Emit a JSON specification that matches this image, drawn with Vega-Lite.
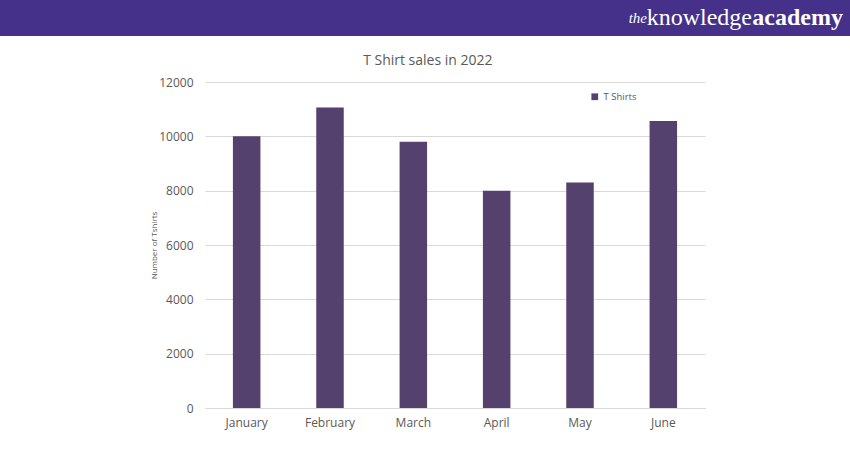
{
  "$schema": "https://vega.github.io/schema/vega-lite/v6.json",
  "padding": {"left": 0, "top": 0, "right": 0, "bottom": 20},
  "background": "white",
  "spacing": 18,
  "config": {"font": "Open Sans", "view": {"stroke": null}},
  "datasets": {
    "sales": [
      {"Month": "January", "Sales": 10000, "Series": "T Shirts"},
      {"Month": "February", "Sales": 11060, "Series": "T Shirts"},
      {"Month": "March", "Sales": 9800, "Series": "T Shirts"},
      {"Month": "April", "Sales": 8000, "Series": "T Shirts"},
      {"Month": "May", "Sales": 8300, "Series": "T Shirts"},
      {"Month": "June", "Sales": 10560, "Series": "T Shirts"}
    ],
    "brand": [{"Brand": "theknowledgeacademy"}],
    "empty": []
  },
  "vconcat": [
    {
      "width": 850,
      "height": 36,
      "view": {"fill": "#45318a", "stroke": null},
      "data": {"name": "brand"},
      "layer": [
        {
          "mark": {"type": "text", "align": "right", "baseline": "middle", "font": "Liberation Serif", "fontSize": 24, "fontWeight": "bold", "color": "white", "dx": -7},
          "encoding": {"x": {"value": "width"}, "y": {"expr": "height/2"}, "text": {"value": "academy"}}
        },
        {
          "mark": {"type": "text", "align": "right", "baseline": "middle", "font": "Liberation Serif", "fontSize": 24, "color": "white", "dx": -98},
          "encoding": {"x": {"value": "width"}, "y": {"expr": "height/2"}, "text": {"value": "knowledge"}}
        },
        {
          "mark": {"type": "text", "align": "right", "baseline": "middle", "font": "Liberation Serif", "fontSize": 15, "fontStyle": "italic", "color": "white", "dx": -203},
          "encoding": {"x": {"value": "width"}, "y": {"expr": "height/2"}, "text": {"value": "the"}}
        }
      ]
    },
    {
      "spacing": 0,
      "resolve": {"legend": {"color": "independent"}},
      "hconcat": [
        {
          "width": 150,
          "height": 10,
          "data": {"name": "empty"},
          "mark": "point"
        },
        {
          "width": 500,
          "height": 326,
          "data": {"name": "sales"},
          "title": {"text": "T Shirt sales in 2022", "fontSize": 14, "fontWeight": "normal", "color": "#595959", "offset": 8, "font": "Open Sans", "frame": "bounds"},
          "mark": {"type": "bar", "width": {"band": 0.33}},
          "encoding": {
            "x": {
              "field": "Month", "type": "nominal", "sort": null, "title": null,
              "scale": {"paddingInner": 0, "paddingOuter": 0},
              "axis": {"labelAngle": 0, "labelFontSize": 12, "labelColor": "#595959", "labelPadding": 9, "ticks": false, "domainColor": "#d9d9d9", "labelFont": "Open Sans"}
            },
            "y": {
              "field": "Sales", "type": "quantitative", "title": "Number of Tshirts",
              "scale": {"domain": [0, 12000], "nice": false},
              "axis": {"values": [0, 2000, 4000, 6000, 8000, 10000, 12000], "format": "d", "labelFontSize": 12, "labelColor": "#595959", "labelPadding": 12, "ticks": false, "domain": false, "gridColor": "#d9d9d9", "titleFontSize": 8, "titleFontWeight": "normal", "titleColor": "#595959", "titlePadding": 0, "labelFont": "Open Sans", "titleFont": "Open Sans"}
            },
            "color": {
              "field": "Series", "type": "nominal",
              "scale": {"range": ["#55416d"]},
              "legend": {"title": null, "orient": "none", "legendX": 385, "legendY": 10, "symbolType": "square", "symbolSize": 45, "labelFontSize": 9.5, "labelColor": "#595959", "labelFont": "Open Sans"}
            }
          }
        }
      ]
    }
  ]
}
